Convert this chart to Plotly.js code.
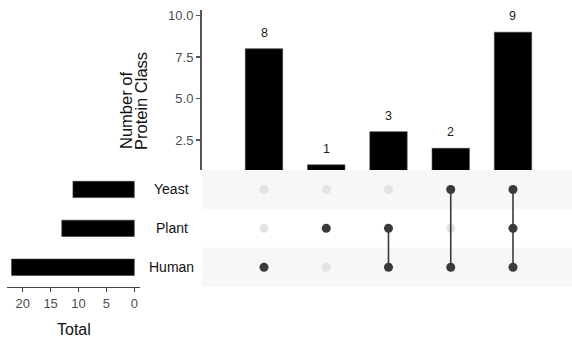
<!DOCTYPE html>
<html>
<head>
<meta charset="utf-8">
<script src="https://cdn.plot.ly/plotly-3.0.1.min.js"></script>
<style>html,body{margin:0;padding:0;background:#fff;}#chart{width:572px;height:344px;}</style>
</head>
<body>
<div id="chart"></div>
<script>
// ---- data ----
var setNames = ['Human', 'Plant', 'Yeast'];          // bottom to top rows
var setSizes = [22, 13, 11];
var intersectionCounts = [8, 1, 3, 2, 9];
var intersectionMembers = [
  ['Human'],
  ['Plant'],
  ['Human', 'Plant'],
  ['Human', 'Yeast'],
  ['Human', 'Plant', 'Yeast']
];
var yTickVals = [2.5, 5.0, 7.5, 10.0];
var xTickVals = [0, 5, 10, 15, 20];

var REG = "'Liberation Sans', Arial, sans-serif";

var idx = intersectionCounts.map(function (_, i) { return i; });
var traces = [];

// top intersection-size bars
traces.push({
  type: 'bar', x: idx, y: intersectionCounts, xaxis: 'x', yaxis: 'y',
  marker: {color: '#000000', line: {color: '#3a3a3a', width: 0.6}}, width: 0.6,
  hoverinfo: 'skip', showlegend: false
});

// matrix: light dots
var lx = [], ly = [], dx = [], dy = [];
intersectionMembers.forEach(function (mem, i) {
  setNames.forEach(function (s, r) {
    if (mem.indexOf(s) >= 0) { dx.push(i); dy.push(r); } else { lx.push(i); ly.push(r); }
  });
});
traces.push({
  type: 'scatter', mode: 'markers', x: lx, y: ly, xaxis: 'x', yaxis: 'y2',
  marker: {color: '#e3e3e3', size: 9}, hoverinfo: 'skip', showlegend: false
});
// connecting lines
intersectionMembers.forEach(function (mem, i) {
  if (mem.length < 2) return;
  var rows = mem.map(function (s) { return setNames.indexOf(s); });
  traces.push({
    type: 'scatter', mode: 'lines', x: [i, i],
    y: [Math.min.apply(null, rows), Math.max.apply(null, rows)],
    xaxis: 'x', yaxis: 'y2', line: {color: '#3a3a3a', width: 1.6},
    hoverinfo: 'skip', showlegend: false
  });
});
// dark dots
traces.push({
  type: 'scatter', mode: 'markers', x: dx, y: dy, xaxis: 'x', yaxis: 'y2',
  marker: {color: '#3a3a3a', size: 9}, hoverinfo: 'skip', showlegend: false
});

// left set-size bars
traces.push({
  type: 'bar', orientation: 'h', x: setSizes, y: setNames.map(function (_, r) { return r; }),
  xaxis: 'x3', yaxis: 'y3', width: 0.42,
  marker: {color: '#000000', line: {color: '#3a3a3a', width: 0.6}},
  hoverinfo: 'skip', showlegend: false
});

var W = 572, H = 344;
function px(v) { return v / W; }
function py(v) { return (H - v) / H; }

var shapes = [];
['Yeast', 'Human'].forEach(function (s) {
  var r = setNames.indexOf(s);
  shapes.push({
    type: 'rect', xref: 'paper', yref: 'y2', x0: px(202), x1: 1, y0: r - 0.5, y1: r + 0.5,
    fillcolor: '#f7f7f7', line: {width: 0}, layer: 'below'
  });
});

var annotations = [];
intersectionCounts.forEach(function (c, i) {
  annotations.push({
    xref: 'x', yref: 'y', x: i, y: c, text: String(c), showarrow: false,
    yanchor: 'middle', yshift: 16, font: {family: REG, size: 12.5, color: '#1a1a1a'}
  });
});
setNames.forEach(function (s, r) {
  annotations.push({
    xref: 'paper', yref: 'y2', x: px(171.5), y: r, text: s, showarrow: false,
    xanchor: 'center', yanchor: 'middle', font: {family: REG, size: 14, color: '#111111'}
  });
});
annotations.push({
  xref: 'paper', yref: 'paper', x: px(126), y: py(111), text: 'Number of', textangle: -90,
  showarrow: false, xanchor: 'center', yanchor: 'middle', font: {family: REG, size: 16.5, color: '#111111'}
});
annotations.push({
  xref: 'paper', yref: 'paper', x: px(141), y: py(101), text: 'Protein Class', textangle: -90,
  showarrow: false, xanchor: 'center', yanchor: 'middle', font: {family: REG, size: 16.5, color: '#111111'}
});
annotations.push({
  xref: 'paper', yref: 'paper', x: px(74), y: py(329), text: 'Total',
  showarrow: false, xanchor: 'center', yanchor: 'middle', font: {family: REG, size: 16, color: '#111111'}
});

var layout = {
  width: W, height: H, margin: {l: 0, r: 0, t: 0, b: 0},
  paper_bgcolor: '#ffffff', plot_bgcolor: 'rgba(0,0,0,0)',
  showlegend: false, bargap: 0,
  xaxis: {domain: [px(202), 1], range: [-0.996, 4.948], visible: false, fixedrange: true},
  yaxis: {domain: [py(170), py(10)], range: [0.69, 10.34], anchor: 'x',
    tickvals: yTickVals, tickformat: '.1f', ticks: 'outside', ticklen: 4, tickwidth: 1.2,
    tickcolor: '#555555', showline: true, linecolor: '#555555', linewidth: 2,
    showgrid: false, zeroline: false, tickfont: {family: REG, size: 13, color: '#4d4d4d'}},
  yaxis2: {domain: [py(286.7), py(170)], range: [-0.5, 2.5], anchor: 'x', visible: false},
  xaxis3: {domain: [px(6.7), px(140)], range: [22.87, -1.02], anchor: 'y3',
    tickvals: xTickVals, ticks: 'outside', ticklen: 4, tickwidth: 1.2, tickcolor: '#444444',
    showline: true, linecolor: '#444444', linewidth: 1.6, showgrid: false, zeroline: false,
    tickfont: {family: REG, size: 13, color: '#4d4d4d'}},
  yaxis3: {domain: [py(286.7), py(170)], range: [-0.5, 2.5], anchor: 'x3', visible: false},
  shapes: shapes,
  annotations: annotations
};

Plotly.newPlot('chart', traces, layout, {displayModeBar: false, staticPlot: true});
</script>
</body>
</html>
